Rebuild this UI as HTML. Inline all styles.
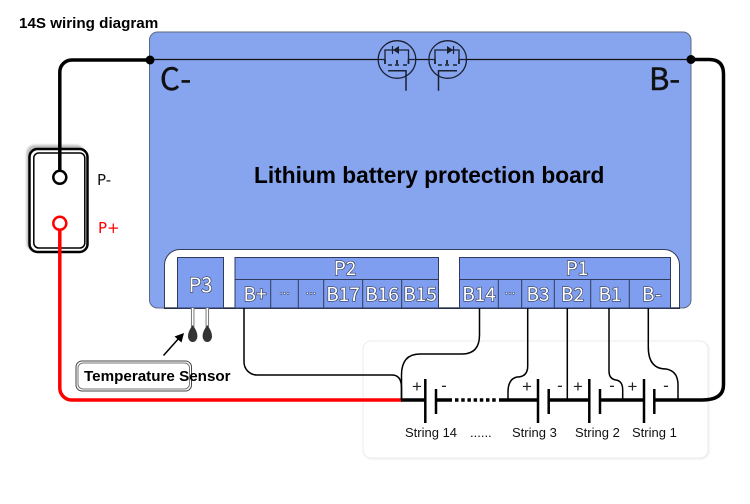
<!DOCTYPE html>
<html><head><meta charset="utf-8"><style>
html,body{margin:0;padding:0;background:#fff}
svg{display:block}
.p{font-family:"Noto Sans CJK SC","DejaVu Sans",sans-serif;fill:#fff;stroke:#39415c;stroke-width:1.3px;paint-order:stroke;text-anchor:middle;font-size:19px}
.d{font-family:"DejaVu Sans",sans-serif;font-size:11px;stroke-width:1px}
.s{font-family:"Liberation Sans",sans-serif;font-size:13px;fill:#111}
.k{font-family:"Liberation Sans",sans-serif;font-size:17px;fill:#222;text-anchor:middle}
.b{font-family:"Liberation Sans",sans-serif;font-weight:bold;fill:#000}
.n{font-family:"Noto Sans CJK SC","DejaVu Sans",sans-serif}
.v{font-family:"DejaVu Sans",sans-serif}
</style></head><body>
<svg width="750" height="504" viewBox="0 0 750 504" xmlns="http://www.w3.org/2000/svg">
<defs><filter id="sh" x="-5%" y="-5%" width="110%" height="110%"><feGaussianBlur stdDeviation="1"/></filter></defs>
<text class="b" x="19" y="28" font-size="15.200">14S wiring diagram</text>
<!-- board -->
<path d="M149.500 40a8 8 0 0 1 8-8H683a8 8 0 0 1 8 8V300a8 8 0 0 1-8 8H157.500a8 8 0 0 1-8-8Z" fill="#87a4ee" stroke="#5c6784" stroke-width="1"/>
<path d="M164.500 308.500V265a15.500 15.500 0 0 1 15.500-15.500H664a15.500 15.500 0 0 1 15.500 15.500V308.500Z" fill="#fff" stroke="#333d5c" stroke-width="1"/>
<line x1="164" y1="308" x2="680" y2="308" stroke="#1a2340" stroke-width="1.300"/>
<!-- ports -->
<g fill="#7f9eef" stroke="#2f3a5c" stroke-width="1">
<rect x="177.500" y="257.500" width="46" height="50.500"/>
<rect x="235" y="257.500" width="203.500" height="50.500"/>
<rect x="459.500" y="257.500" width="211" height="50.500"/>
</g>
<path d="M235 279.500H438.500M270.700 279.500V308M298.300 279.500V308M323.700 279.500V308M362.700 279.500V308M401.700 279.500V308M459.500 279.500H670.500M498.300 279.500V308M521.700 279.500V308M554.300 279.500V308M590.700 279.500V308M629.300 279.500V308" stroke="#2f3a5c" stroke-width="1" fill="none"/>
<text class="p" x="200.500" y="292" style="font-size:20px">P3</text>
<text class="p" x="345" y="275">P2</text>
<text class="p" x="577" y="275">P1</text>
<text class="p" x="255" y="301">B+</text>
<text class="p d" x="284.500" y="297">···</text>
<text class="p d" x="311" y="297">···</text>
<text class="p" x="343" y="301">B17</text>
<text class="p" x="382" y="301">B16</text>
<text class="p" x="420" y="301">B15</text>
<text class="p" x="479" y="301">B14</text>
<text class="p d" x="510" y="297">···</text>
<text class="p" x="538" y="301">B3</text>
<text class="p" x="572.500" y="301">B2</text>
<text class="p" x="610" y="301">B1</text>
<text class="p" x="652" y="301" style="font-size:19px;letter-spacing:.5px">B-</text>
<!-- board line and mosfets -->
<line x1="150" y1="59.500" x2="691" y2="59.500" stroke="#111" stroke-width="1.300"/>
<g fill="none" stroke="#1a2030" stroke-width="1.300">
<circle cx="397" cy="59.500" r="18.800" fill="#87a4ee"/>
<circle cx="447.700" cy="59.500" r="18.800" fill="#87a4ee"/>
<path d="M378 59.500H385V50H408.500V59.500H416M429 59.500H435V50H459V59.500H467"/>
<path d="M385 59.500V64M408.500 59.500V64M397 60V64M435 59.500V64M459 59.500V64M447 60V64" stroke-width="1.800"/>
<path d="M388 65H392M395 65H399M403 65H407M388 70.700H406V90.700M438.500 90.700V70.700H457M438 65H442M445 65H449M453 65H457" stroke-width="1.500"/>
</g>
<path d="M393 50L399 46V54Z M453 50L447 46V54Z" fill="#1a2030"/>
<path d="M392.500 46V54M453.500 46V54" stroke="#1a2030" stroke-width="1.200"/>
<text class="n" x="160" y="90" font-size="31" fill="#111" stroke="#111" stroke-width=".5" style="letter-spacing:1.500px">C-</text>
<text class="n" x="649" y="90" font-size="31" fill="#111" stroke="#111" stroke-width=".5">B-</text>
<text class="b" x="254" y="183" font-size="22.700">Lithium battery protection board</text>
<!-- strings panel -->
<rect x="364" y="342" width="345" height="117" rx="8" fill="#e8e8e8" filter="url(#sh)"/>
<rect x="363" y="341" width="345" height="117" rx="8" fill="#fff" stroke="#ececec" stroke-width="1"/>
<!-- connector -->
<rect x="26.500" y="145" width="58" height="106" rx="8" fill="#bbb" filter="url(#sh)"/>
<rect x="29.500" y="149" width="58" height="103" rx="8" fill="#fff" stroke="#000" stroke-width="2.500"/>
<rect x="33.800" y="153" width="51" height="95" rx="5" fill="#fff" stroke="#000" stroke-width="1.500"/>
<path d="M59.800 171V72A12 12 0 0 1 71.800 60H150" fill="none" stroke="#000" stroke-width="3.500"/>
<circle cx="150" cy="60" r="4.500" fill="#000"/>
<circle cx="59.800" cy="177.300" r="6.500" fill="#fff" stroke="#000" stroke-width="2.500"/>
<path d="M59.800 230V388A12 12 0 0 0 71.800 400H402" fill="none" stroke="#f00" stroke-width="3.500"/>
<circle cx="59.800" cy="223.300" r="6.500" fill="#fff" stroke="#f00" stroke-width="2.500"/>
<text class="v" x="97" y="185" font-size="15" fill="#111">P-</text>
<text class="v" x="98" y="233" font-size="15" fill="#f00">P+</text>
<!-- sensors -->
<path d="M192.700 308V327M207.300 308V327" stroke="#777" stroke-width="3.500"/>
<path d="M192.700 308V327M207.300 308V327" stroke="#fff" stroke-width="1.500"/>
<path d="M192.700 325C190 329 188 332 188 336.500A4.700 5.500 0 0 0 197.400 336.500C197.400 332 195.400 329 192.700 325Z" fill="#333"/>
<path d="M207.300 325C204.600 329 202.600 332 202.600 336.500A4.700 5.500 0 0 0 212 336.500C212 332 210 329 207.300 325Z" fill="#333"/>
<path d="M163.500 355.500L180 337" stroke="#000" stroke-width="1.500"/>
<path d="M184 333L181.500 342.500L174.500 336.500Z" fill="#000"/>
<rect x="76" y="361" width="115.500" height="30" rx="6" fill="#fff" stroke="#444" stroke-width="1"/>
<rect x="78" y="363" width="111.500" height="26" rx="5" fill="#fff" stroke="#777" stroke-width="1"/>
<text class="b" x="84" y="381" font-size="15.200">Temperature Sensor</text>
<g fill="none" stroke="#000" stroke-width="1.500">
<path d="M244 308V362A13 13 0 0 0 257 375H392Q401.500 375 401.500 388V400"/>
<path d="M479.500 308V335Q479.500 354 462 354H420Q401.500 354 401.500 375V400"/>
<path d="M527.700 308V366Q527.700 377 517 377Q508 379 508 392V400"/>
<path d="M567.300 308V400"/>
<path d="M609 308V371Q609 379 616 380Q622.700 381 622.700 390V400"/>
<path d="M648.300 308V347Q648.300 369 666 369Q678 371 678 385V400"/>
</g>
<g stroke="#000" fill="none">
<path d="M401 400H425M436 400H452M499 400H538M549 400H589M600 400H644M654 400H702Q723.500 400 723.500 385V74Q723.500 59.500 709 59.500H691" stroke-width="3.500"/>
<path d="M455 400H497" stroke-width="3.500" stroke-dasharray="3.500 2.700"/>
<path d="M425.300 379V423M436 389V414M538 379V423M548.700 389V414M589.300 379V423M600 389V414M644 379V423M654.300 389V414" stroke-width="2.500"/>
</g>
<circle cx="691" cy="59.500" r="4.500" fill="#000"/>
<text class="k" x="417" y="392">+</text><text class="k" x="444" y="391">-</text>
<text class="k" x="527" y="392">+</text><text class="k" x="560" y="391">-</text>
<text class="k" x="578" y="392">+</text><text class="k" x="612" y="391">-</text>
<text class="k" x="632.500" y="392">+</text><text class="k" x="666" y="391">-</text>
<text class="s" x="405" y="437">String 14</text>
<text class="s" x="470" y="437">......</text>
<text class="s" x="512" y="437">String 3</text>
<text class="s" x="575" y="437">String 2</text>
<text class="s" x="632" y="437">String 1</text>
</svg>
</body></html>
